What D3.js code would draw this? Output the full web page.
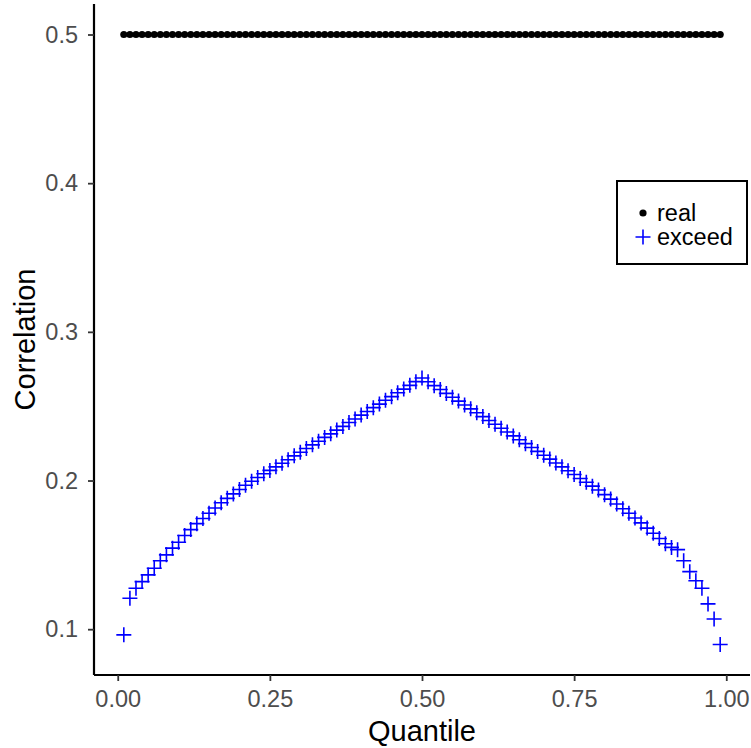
<!DOCTYPE html>
<html>
<head>
<meta charset="utf-8">
<script src="https://cdn.jsdelivr.net/npm/d3@7"></script>
<style>
  html, body { margin: 0; padding: 0; background: #fff; }
  svg { display: block; }
  text { font-family: "Liberation Sans", Arial, Helvetica, sans-serif; }
</style>
</head>
<body>
<svg id="chart" width="751" height="748"></svg>
<script>
// Quantile levels 0.01 .. 0.99
const quantiles = [
  0.01,0.02,0.03,0.04,0.05,0.06,0.07,0.08,0.09,0.10,
  0.11,0.12,0.13,0.14,0.15,0.16,0.17,0.18,0.19,0.20,
  0.21,0.22,0.23,0.24,0.25,0.26,0.27,0.28,0.29,0.30,
  0.31,0.32,0.33,0.34,0.35,0.36,0.37,0.38,0.39,0.40,
  0.41,0.42,0.43,0.44,0.45,0.46,0.47,0.48,0.49,0.50,
  0.51,0.52,0.53,0.54,0.55,0.56,0.57,0.58,0.59,0.60,
  0.61,0.62,0.63,0.64,0.65,0.66,0.67,0.68,0.69,0.70,
  0.71,0.72,0.73,0.74,0.75,0.76,0.77,0.78,0.79,0.80,
  0.81,0.82,0.83,0.84,0.85,0.86,0.87,0.88,0.89,0.90,
  0.91,0.92,0.93,0.94,0.95,0.96,0.97,0.98,0.99
];

// True correlation (constant)
const realCorr = quantiles.map(() => 0.5);

// Exceedance correlation at each quantile
const exceedCorr = [
  0.0962,0.1208,0.1275,0.1320,0.1365,0.1410,0.1460,0.1500,0.1545,0.1585,
  0.1630,0.1670,0.1710,0.1745,0.1780,0.1815,0.1850,0.1880,0.1910,0.1940,
  0.1968,0.1995,0.2020,0.2045,0.2068,0.2092,0.2116,0.2140,0.2166,0.2190,
  0.2215,0.2240,0.2264,0.2290,0.2314,0.2339,0.2364,0.2390,0.2414,0.2440,
  0.2464,0.2490,0.2514,0.2540,0.2564,0.2590,0.2615,0.2640,0.2665,0.2690,
  0.2664,0.2638,0.2612,0.2586,0.2560,0.2534,0.2508,0.2482,0.2456,0.2430,
  0.2404,0.2378,0.2352,0.2326,0.2300,0.2274,0.2248,0.2222,0.2196,0.2170,
  0.2144,0.2118,0.2092,0.2066,0.2040,0.2014,0.1988,0.1962,0.1936,0.1905,
  0.1875,0.1842,0.1810,0.1780,0.1748,0.1715,0.1680,0.1645,0.1610,0.1575,
  0.1550,0.1535,0.1460,0.1387,0.1326,0.1275,0.1170,0.1069,0.0897
];

const xTicks = [0, 0.25, 0.5, 0.75, 1];
const yTicks = [0.1, 0.2, 0.3, 0.4, 0.5];
const seriesNames = ["real", "exceed"];
const seriesColors = ["#000000", "#0000ff"];

const svg = d3.select("#chart");
const margin = { top: 4, right: 1, bottom: 73, left: 94 };
const W = 751, H = 748;
const innerW = W - margin.left - margin.right;
const innerH = H - margin.top - margin.bottom;

// Expanded domains (5% padding around data range)
const xMin = d3.min(quantiles), xMax = d3.max(quantiles);
const xPad = (xMax - xMin) * 0.05;
const allY = realCorr.concat(exceedCorr);
const yMin = d3.min(allY), yMax = d3.max(allY);
const yPad = (yMax - yMin) * 0.05;

const x = d3.scaleLinear().domain([xMin - xPad, xMax + xPad]).range([0, innerW]);
const y = d3.scaleLinear().domain([yMin - yPad, yMax + yPad]).range([innerH, 0]);

const g = svg.append("g").attr("transform", `translate(${margin.left},${margin.top})`);

const tickFont = 23.5;
const titleFont = 29;

// Axes
const xAxis = g.append("g")
  .attr("transform", `translate(0,${innerH})`)
  .call(d3.axisBottom(x).tickValues(xTicks).tickFormat(d3.format(".2f")).tickSize(6).tickPadding(9));
const yAxis = g.append("g")
  .call(d3.axisLeft(y).tickValues(yTicks).tickFormat(d3.format(".1f")).tickSize(6).tickPadding(10));

[xAxis, yAxis].forEach(a => {
  a.attr("font-size", tickFont).attr("font-family", null);
  a.select(".domain").attr("stroke", "#000").attr("stroke-width", 2.2).attr("d",
    a === xAxis ? `M0,0H${innerW}` : `M0,0V${innerH}`);
  a.selectAll(".tick line").attr("stroke", "#333").attr("stroke-width", 1.8);
  a.selectAll(".tick text").attr("fill", "#4d4d4d");
});

// Axis titles
svg.append("text")
  .attr("x", margin.left + x(0.5))
  .attr("y", 741)
  .attr("text-anchor", "middle")
  .attr("font-size", titleFont)
  .attr("fill", "#000")
  .text("Quantile");
svg.append("text")
  .attr("transform", `translate(35,${margin.top + innerH / 2}) rotate(-90)`)
  .attr("text-anchor", "middle")
  .attr("font-size", titleFont)
  .attr("fill", "#000")
  .text("Correlation");

// Plus-sign path
const plus = (cx, cy, r) => `M${cx - r},${cy}H${cx + r}M${cx},${cy - r}V${cy + r}`;

// Real correlation points
g.append("g").selectAll("circle")
  .data(quantiles)
  .join("circle")
  .attr("cx", (d) => x(d))
  .attr("cy", (d, i) => y(realCorr[i]))
  .attr("r", 3.6)
  .attr("fill", seriesColors[0]);

// Exceedance correlation points
g.append("g").selectAll("path")
  .data(quantiles)
  .join("path")
  .attr("d", (d, i) => plus(x(d), y(exceedCorr[i]), 7.5))
  .attr("stroke", seriesColors[1])
  .attr("stroke-width", 1.6)
  .attr("fill", "none");

// Legend
const leg = svg.append("g").attr("transform", "translate(617,181)");
leg.append("rect")
  .attr("width", 130).attr("height", 83)
  .attr("fill", "#fff").attr("stroke", "#000").attr("stroke-width", 2);
leg.append("circle").attr("cx", 26).attr("cy", 32).attr("r", 3.6).attr("fill", seriesColors[0]);
leg.append("path").attr("d", plus(26, 56, 7.5)).attr("stroke", seriesColors[1]).attr("stroke-width", 1.6);
seriesNames.forEach((name, i) => {
  leg.append("text")
    .attr("x", 40).attr("y", 32 + i * 24)
    .attr("dy", "0.35em")
    .attr("font-size", tickFont)
    .attr("fill", "#000")
    .text(name);
});
</script>
</body>
</html>
